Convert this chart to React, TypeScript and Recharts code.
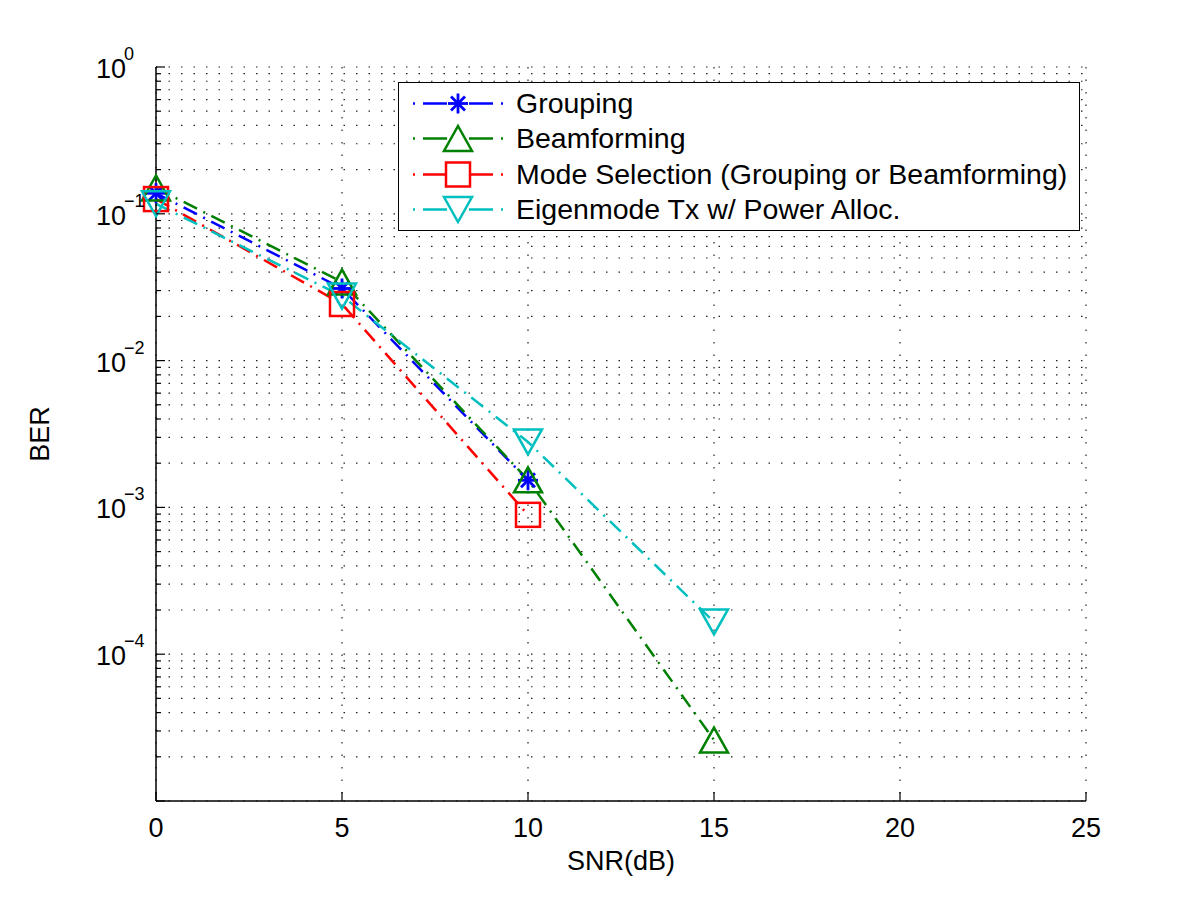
import { LineChart, Line, XAxis, YAxis, CartesianGrid, Legend } from 'recharts';

const snr = [0, 5, 10, 15];
const grouping = [0.138, 0.031, 0.00153, null];
const beamforming = [0.15, 0.0343, 0.00154, 0.000026];
const modeSelection = [0.126, 0.0243, 0.00089, null];
const eigenmode = [0.117, 0.0275, 0.00279, 0.000166];

const xTicks = [0, 5, 10, 15, 20, 25];
const decades = [1e-5, 1e-4, 1e-3, 1e-2, 1e-1, 1];
const minorSteps = [2, 3, 4, 5, 6, 7, 8, 9];

const yTicks: number[] = [];
decades.forEach((d, i) => {
  yTicks.push(d);
  if (i < decades.length - 1) minorSteps.forEach((m) => yTicks.push(d * m));
});

const FONT = '"Liberation Sans", Arial, Helvetica, sans-serif';

type MarkerKind = 'star' | 'triUp' | 'square' | 'triDown';

const seriesDefs: { key: string; name: string; color: string; marker: MarkerKind }[] = [
  { key: 'grouping', name: 'Grouping', color: '#0000ff', marker: 'star' },
  { key: 'beamforming', name: 'Beamforming', color: '#008000', marker: 'triUp' },
  { key: 'modeSelection', name: 'Mode Selection (Grouping or Beamforming)', color: '#ff0000', marker: 'square' },
  { key: 'eigenmode', name: 'Eigenmode Tx w/ Power Alloc.', color: '#00bfbf', marker: 'triDown' },
];

const data = snr.map((s, i) => ({
  snr: s,
  grouping: grouping[i],
  beamforming: beamforming[i],
  modeSelection: modeSelection[i],
  eigenmode: eigenmode[i],
}));

const DASH = '15 7 2 7';

const renderMarker = (kind: MarkerKind, cx: number, cy: number, color: string) => {
  const sw = 2.5;
  if (kind === 'star') {
    const r = 10;
    const d = 7;
    return (
      <g stroke={color} strokeWidth={2.8} fill="none">
        <line x1={cx - r} y1={cy} x2={cx + r} y2={cy} />
        <line x1={cx} y1={cy - r} x2={cx} y2={cy + r} />
        <line x1={cx - d} y1={cy - d} x2={cx + d} y2={cy + d} />
        <line x1={cx - d} y1={cy + d} x2={cx + d} y2={cy - d} />
      </g>
    );
  }
  if (kind === 'triUp') {
    return (
      <polygon
        points={`${cx},${cy - 12.5} ${cx + 14},${cy + 12.5} ${cx - 14},${cy + 12.5}`}
        fill="none"
        stroke={color}
        strokeWidth={sw}
      />
    );
  }
  if (kind === 'triDown') {
    return (
      <polygon
        points={`${cx - 14},${cy - 12.5} ${cx + 14},${cy - 12.5} ${cx},${cy + 12.5}`}
        fill="none"
        stroke={color}
        strokeWidth={sw}
      />
    );
  }
  return <rect x={cx - 12} y={cy - 12} width={24} height={24} fill="none" stroke={color} strokeWidth={sw} />;
};

const makeDot = (kind: MarkerKind, color: string) => (props: any) => {
  const { cx, cy, index } = props;
  if (cx == null || cy == null || props.value == null) return <g key={`d-${kind}-${index}`} />;
  return <g key={`d-${kind}-${index}`}>{renderMarker(kind, cx, cy, color)}</g>;
};

const isDecade = (v: number) => Math.abs(Math.log10(v) - Math.round(Math.log10(v))) < 1e-6;

const LeftTick = (props: any) => {
  const { x, y, payload } = props;
  const v = payload.value as number;
  const major = isDecade(v);
  const exp = Math.round(Math.log10(v));
  return (
    <g>
      <line x1={x} y1={y} x2={x + (major ? 9 : 5)} y2={y} stroke="#000" strokeWidth={1.2} />
      {major && exp > -5 && (
        <text x={x - 30} y={y + 11} textAnchor="end" fontSize={27} fontFamily={FONT} fill="#000">
          10
        </text>
      )}
      {major && exp > -5 && (
        <text x={x - 32} y={y - 7} textAnchor="start" fontSize={18} fontFamily={FONT} fill="#000">
          {exp === 0 ? '0' : `\u2212${-exp}`}
        </text>
      )}
    </g>
  );
};

const RightTick = (props: any) => {
  const { x, y, payload } = props;
  const major = isDecade(payload.value);
  return <line x1={x} y1={y} x2={x - (major ? 9 : 5)} y2={y} stroke="#000" strokeWidth={1.2} />;
};

const BottomTick = (props: any) => {
  const { x, y, payload } = props;
  return (
    <g>
      <line x1={x} y1={y} x2={x} y2={y - 9} stroke="#000" strokeWidth={1.2} />
      <text x={x} y={y + 36} textAnchor="middle" fontSize={27} fontFamily={FONT} fill="#000">
        {payload.value}
      </text>
    </g>
  );
};

const TopTick = (props: any) => {
  const { x, y } = props;
  return <line x1={x} y1={y} x2={x} y2={y + 9} stroke="#000" strokeWidth={1.2} />;
};

const LegendBox = () => (
  <div
    style={{
      border: '1.5px solid #000',
      background: '#fff',
      width: 682,
      height: 149,
      boxSizing: 'border-box',
      paddingTop: 3,
      fontFamily: FONT,
    }}
  >
    {seriesDefs.map((s) => (
      <div key={s.key} style={{ display: 'flex', alignItems: 'center', height: 35.3 }}>
        <svg width={117} height={35} style={{ flex: 'none' }}>
          <g stroke={s.color} strokeWidth={2.5}>
            <line x1={14} y1={17.5} x2={16} y2={17.5} />
            <line x1={24} y1={17.5} x2={48} y2={17.5} />
            <line x1={70} y1={17.5} x2={94} y2={17.5} />
            <line x1={102} y1={17.5} x2={104} y2={17.5} />
          </g>
          {renderMarker(s.marker, 59, 17.5, s.color)}
        </svg>
        <span style={{ fontSize: 28.5, color: '#000', whiteSpace: 'nowrap' }}>{s.name}</span>
      </div>
    ))}
  </div>
);

export default function App() {
  return (
    <div style={{ position: 'absolute', left: 0, top: 0, width: 1200, height: 903, background: '#fff' }}>
      <LineChart width={1200} height={903} data={data} margin={{ top: 67, right: 114, bottom: 0, left: 0 }}>
        <CartesianGrid stroke="#222" strokeDasharray="1.5 11" strokeWidth={1.2} xAxisId="x" yAxisId="y" />
        <XAxis
          xAxisId="x"
          dataKey="snr"
          type="number"
          domain={[0, 25]}
          ticks={xTicks}
          interval={0}
          height={102}
          tickSize={0}
          tickMargin={0}
          tickLine={false}
          axisLine={{ stroke: '#000', strokeWidth: 1.5 }}
          tick={<BottomTick />}
          label={(p: any) => {
            const vb = p.viewBox;
            return (
              <text x={vb.x + vb.width / 2} y={vb.y + 69} textAnchor="middle" fontSize={27} fontFamily={FONT} fill="#000">
                SNR(dB)
              </text>
            );
          }}
        />
        <XAxis
          xAxisId="top"
          dataKey="snr"
          type="number"
          orientation="top"
          domain={[0, 25]}
          ticks={xTicks}
          interval={0}
          height={0}
          tickSize={0}
          tickMargin={0}
          tickLine={false}
          axisLine={{ stroke: '#000', strokeWidth: 1.5 }}
          tick={<TopTick />}
        />
        <YAxis
          yAxisId="y"
          scale="log"
          domain={[1e-5, 1]}
          allowDataOverflow
          ticks={yTicks}
          interval={0}
          width={156}
          tickSize={0}
          tickMargin={0}
          tickLine={false}
          axisLine={{ stroke: '#000', strokeWidth: 1.5 }}
          tick={<LeftTick />}
          label={(p: any) => {
            const vb = p.viewBox;
            const cy = vb.y + vb.height / 2;
            return (
              <text
                x={49}
                y={cy}
                transform={`rotate(-90, 49, ${cy})`}
                textAnchor="middle"
                fontSize={27}
                fontFamily={FONT}
                fill="#000"
              >
                BER
              </text>
            );
          }}
        />
        <YAxis
          yAxisId="right"
          orientation="right"
          scale="log"
          domain={[1e-5, 1]}
          allowDataOverflow
          ticks={yTicks}
          interval={0}
          width={0}
          tickSize={0}
          tickMargin={0}
          tickLine={false}
          axisLine={{ stroke: '#000', strokeWidth: 1.5 }}
          tick={<RightTick />}
        />
        <Legend
          layout="horizontal"
          verticalAlign="middle"
          align="center"
          content={() => <LegendBox />}
          wrapperStyle={{ position: 'absolute', left: 398, top: 82, width: 682, height: 149 }}
        />
        {seriesDefs.map((s) => (
          <Line
            key={s.key}
            xAxisId="x"
            yAxisId="y"
            type="linear"
            dataKey={s.key}
            name={s.name}
            stroke={s.color}
            strokeWidth={2.5}
            strokeDasharray={DASH}
            dot={makeDot(s.marker, s.color)}
            activeDot={false}
            isAnimationActive={false}
          />
        ))}
      </LineChart>
    </div>
  );
}
